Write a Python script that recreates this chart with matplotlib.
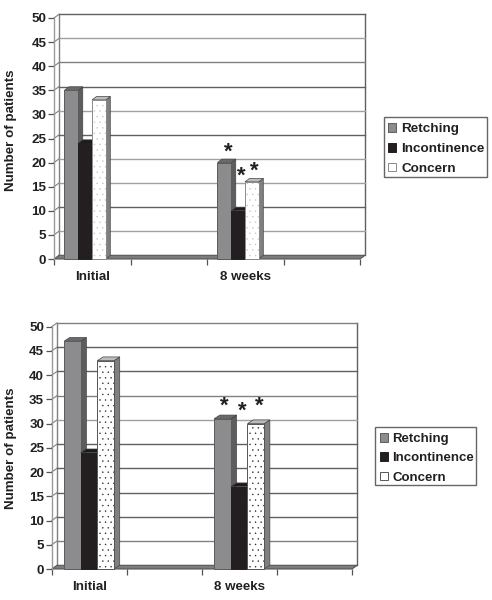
import matplotlib
matplotlib.use("Agg")
import matplotlib.pyplot as plt
from matplotlib.patches import Patch, Rectangle, Polygon

plt.rcParams['font.family'] = ['Liberation Sans', 'DejaVu Sans']
plt.rcParams['hatch.linewidth'] = 0.25

categories = ["Initial", "8 weeks"]
category_slots = [0, 2]
series_names = ["Retching", "Incontinence", "Concern"]
top_retching = [35, 20]
top_incontinence = [24, 10]
top_concern = [33, 16]
bottom_retching = [47, 31]
bottom_incontinence = [24, 17]
bottom_concern = [43, 30]
y_ticks = list(range(0, 51, 5))

W, H = 492, 600
TEXT = '#231f20'
FS = 9.6
DARK, MID, LIGHT = '#606060', '#808080', '#a0a0a0'


def draw(box, values, opts):
    x0, ytop, x1, ybot = box
    ax = fig.add_axes([x0 / W, 1 - ybot / H, (x1 - x0) / W, (ybot - ytop) / H])
    ax.set_xlim(0, 4)
    ax.set_ylim(0, 50)
    ax.patch.set_visible(False)
    for s in ['top', 'right', 'bottom']:
        ax.spines[s].set_visible(False)
    ax.spines['left'].set_color('#9a9a9a')
    ax.spines['left'].set_linewidth(1.0)

    ux = 4 / (x1 - x0)
    uy = 50 / (ybot - ytop)
    wdx, wdy = opts['wall'][0] * ux, opts['wall'][1] * uy
    bdx, bdy = opts['depth'][0] * ux, opts['depth'][1] * uy

    # back wall and grid
    ax.plot([wdx, wdx], [wdy, 50 + wdy], color='#808080', lw=1.0, clip_on=False, zorder=1)
    ax.plot([4 + wdx, 4 + wdx], [wdy, 50 + wdy], color='#606060', lw=1.0, clip_on=False, zorder=1)
    for t, shade in zip(y_ticks[1:], opts['grid']):
        ax.plot([wdx, 4 + wdx], [t + wdy, t + wdy], color=shade, lw=1.0, clip_on=False, zorder=1)
        ax.plot([0, wdx], [t, t + wdy], color='#808080', lw=0.8, clip_on=False, zorder=1)
    ax.add_patch(Polygon([(0, 0), (wdx, wdy), (4 + wdx, wdy), (4, 0)], closed=True,
                         facecolor='#7c7c7c', edgecolor='#555555', lw=0.8, clip_on=False, zorder=1.5))

    for i, (vals, st) in enumerate(zip(values, opts['styles'])):
        for slot, v in zip(category_slots, vals):
            left = slot + opts['start'] + i * opts['width']
            right = left + opts['width']
            z = 2 + i + slot * 0.01
            ax.fill([right, right + bdx, right + bdx, right], [0, bdy, v + bdy, v],
                    facecolor=st['side'], edgecolor='#444444', lw=0.5, clip_on=False, zorder=z)
            ax.fill([left, left + bdx, right + bdx, right], [v, v + bdy, v + bdy, v],
                    facecolor=st['top'], edgecolor='#444444', lw=0.5, clip_on=False, zorder=z)
            ax.bar(left, v, width=opts['width'], align='edge', color=st['face'],
                   edgecolor=st.get('dots', 'none'), hatch=st.get('hatch'), lw=0, clip_on=False, zorder=z)
            ax.add_patch(Rectangle((left, 0), opts['width'], v, fill=False, edgecolor=st['edge'],
                                   lw=0.7, clip_on=False, zorder=z + 0.1))

    ax.set_yticks(y_ticks)
    ax.tick_params(axis='y', length=4, width=0.9, color='#555555', pad=1.5, labelsize=FS, labelcolor=TEXT)
    for lab in ax.get_yticklabels():
        lab.set_fontweight('bold')
    ax.set_xticks([0, 1, 2, 3, 4])
    ax.set_xticklabels([])
    ax.tick_params(axis='x', which='major', length=4, width=0.9, color='#555555')
    ax.set_xticks([s + 0.5 for s in category_slots], categories, minor=True)
    ax.tick_params(axis='x', which='minor', length=0, pad=9, labelsize=FS, labelcolor=TEXT)
    for lab in ax.get_xticklabels(minor=True):
        lab.set_fontweight('bold')

    ax.set_ylabel("Number of patients", fontsize=FS, fontweight='bold', color=TEXT)
    ax.yaxis.set_label_coords((17 - x0) / (x1 - x0), 1 - (opts['ylab_y'] - ytop) / (ybot - ytop))

    for (px, py) in opts['stars']:
        ax.text(px, py, '*', fontsize=16, fontweight='bold', ha='center', va='center', color=TEXT,
                clip_on=False, zorder=10)

    lx0, ly0, lx1, ly1 = opts['legend_box']
    fig.add_artist(Rectangle((lx0 / W, 1 - ly1 / H), (lx1 - lx0) / W, (ly1 - ly0) / H,
                             transform=fig.transFigure, facecolor='white',
                             edgecolor='#666666', lw=1.0, zorder=5))
    handles = [Patch(facecolor=s['face'], edgecolor=s['edge'], lw=0.7, label=n)
               for s, n in zip(opts['styles'], series_names)]
    leg = fig.legend(handles=handles, loc='upper left',
                     bbox_to_anchor=(lx0 / W, 1 - (ly0 + 2) / H), bbox_transform=fig.transFigure,
                     prop={'weight': 'bold', 'size': opts['leg_fs']}, frameon=False,
                     borderpad=opts['leg_pad'], labelspacing=opts['leg_space'],
                     handlelength=0.6, handleheight=0.6, handletextpad=0.38, borderaxespad=0)
    leg.set_zorder(6)
    for t in leg.get_texts():
        t.set_color(TEXT)


fig = plt.figure(figsize=(W / 100, H / 100), dpi=100, facecolor='white')

base = lambda dots, hatch_edge: [
    dict(face='#8c8c8e', edge='#5c5c5c', side='#5d5d5d', top='#6a6a6a'),
    dict(face='#231f20', edge='#231f20', side='#231f20', top='#1d1a1b'),
    dict(face='white', edge=hatch_edge, dots=dots, hatch='...', side='#808080', top='#bdbdbd'),
]

draw((54, 18, 360, 259),
     [top_retching, top_incontinence, top_concern],
     dict(wall=(5, 3.7), depth=(4.5, 3.5), start=0.137, width=0.18, ylab_y=130,
          grid=[LIGHT, DARK, LIGHT, LIGHT, DARK, LIGHT, DARK, MID, LIGHT, DARK],
          styles=base('#c4c4c4', '#8a8a8a'),
          stars=[(2.275, 22.2), (2.454, 17.2), (2.624, 18.3)],
          legend_box=(383.5, 116.7, 486.5, 176.7), leg_fs=9.7, leg_pad=0.33, leg_space=0.58))

draw((51.7, 326.7, 352, 569),
     [bottom_retching, bottom_incontinence, bottom_concern],
     dict(wall=(5.3, 3.7), depth=(5.7, 3.7), start=0.164, width=0.222, ylab_y=448,
          grid=[MID, DARK, DARK, DARK, DARK, LIGHT, MID, DARK, DARK, MID],
          styles=base('#222222', '#555555'),
          stars=[(2.297, 33.6), (2.533, 32.6), (2.769, 33.6)],
          legend_box=(375.3, 426.7, 476, 485), leg_fs=9.5, leg_pad=0.33, leg_space=0.55))

fig.savefig('out.png', dpi=100)
